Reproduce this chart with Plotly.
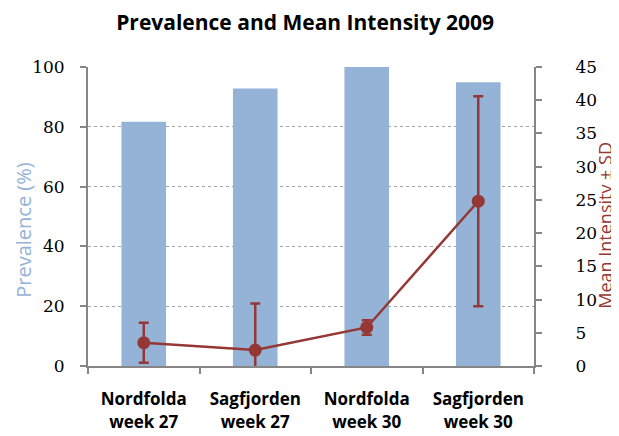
import plotly.graph_objects as go

categories = ["Nordfolda<br>week 27", "Sagfjorden<br>week 27", "Nordfolda<br>week 30", "Sagfjorden<br>week 30"]
prevalence = [81.7, 92.8, 100, 94.9]
mean_intensity = [3.5, 2.4, 5.8, 24.8]
intensity_sd = [3.0, 7.0, 1.1, 15.8]

bar_color = "#95B3D7"
line_color = "#953735"
axis_color = "#868686"

bars = go.Bar(
    x=categories,
    y=prevalence,
    marker=dict(color=bar_color, line=dict(width=0)),
    width=0.4,
    name="Prevalence",
    yaxis="y",
)
intensity = go.Scatter(
    x=categories,
    y=mean_intensity,
    mode="lines+markers",
    line=dict(color=line_color, width=2.5),
    marker=dict(color=line_color, size=13),
    error_y=dict(type="data", array=intensity_sd, color=line_color, thickness=2.5, width=5),
    name="Mean Intensity",
    yaxis="y2",
    cliponaxis=True,
)

# the page body has an 8px margin, so margins are offset by that
layout = go.Layout(
    width=619,
    height=436,
    showlegend=False,
    paper_bgcolor="white",
    plot_bgcolor="white",
    margin=dict(l=80, r=93, t=59, b=78, autoexpand=False),
    title=dict(
        text="<b>Prevalence and Mean Intensity 2009</b>",
        x=0.48,
        xanchor="center",
        y=0.966,
        yanchor="middle",
        font=dict(family="Open Sans", size=21, color="black"),
    ),
    xaxis=dict(
        type="category",
        automargin=False,
        showline=True,
        linecolor=axis_color,
        linewidth=2,
        ticks="outside",
        tickson="boundaries",
        ticklen=6,
        tickcolor=axis_color,
        tickwidth=2,
        showgrid=False,
        ticklabelstandoff=17,
        tickfont=dict(family="Open Sans", size=17, color="black", weight="bold"),
    ),
    yaxis=dict(
        range=[0, 100],
        tickvals=[0, 20, 40, 60, 80, 100],
        automargin=False,
        showline=True,
        linecolor=axis_color,
        linewidth=2,
        ticks="outside",
        ticklen=6,
        tickcolor=axis_color,
        tickwidth=2,
        showgrid=True,
        gridcolor="#A6A6A6",
        griddash="dot",
        gridwidth=1,
        zeroline=False,
        ticklabelstandoff=12,
        tickfont=dict(family="DejaVu Serif", size=17, color="black"),
    ),
    yaxis2=dict(
        range=[0, 45],
        tickvals=[0, 5, 10, 15, 20, 25, 30, 35, 40, 45],
        overlaying="y",
        side="right",
        automargin=False,
        showline=True,
        linecolor=axis_color,
        linewidth=2,
        ticks="outside",
        ticklen=6,
        tickcolor=axis_color,
        tickwidth=2,
        showgrid=False,
        zeroline=False,
        ticklabelstandoff=30,
        tickfont=dict(family="DejaVu Serif", size=17, color="black"),
    ),
    annotations=[
        dict(
            text="Prevalence (%)",
            xref="paper", yref="paper",
            x=(24 - 88) / 446, y=(366 - 230) / 298.5,
            xanchor="center", yanchor="middle",
            textangle=-90, showarrow=False,
            font=dict(family="Open Sans", size=20, color=bar_color),
        ),
        dict(
            text="Mean Intensity ± SD",
            xref="paper", yref="paper",
            x=(605 - 88) / 446, y=(366 - 226) / 298.5,
            xanchor="center", yanchor="middle",
            textangle=-90, showarrow=False,
            font=dict(family="Open Sans", size=18, color=line_color),
        ),
    ],
)

fig = go.Figure(data=[bars, intensity], layout=layout)
fig.write_html("out.html")
